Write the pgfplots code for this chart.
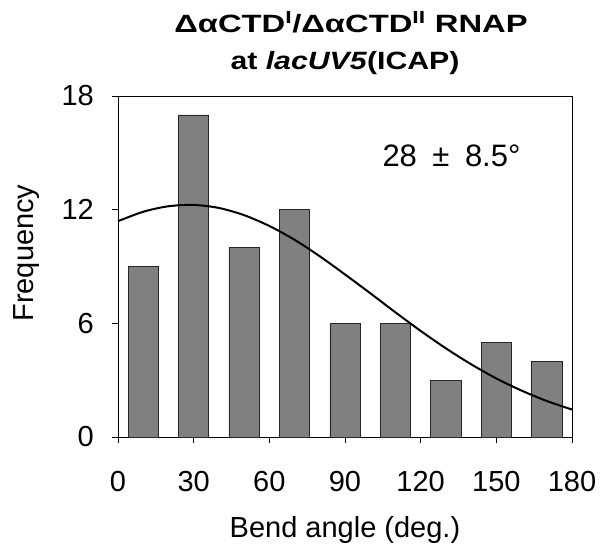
\documentclass[border=0pt]{standalone}
\usepackage{pgfplots}
\pgfplotsset{compat=1.18}
\usepackage{graphicx}
\usepackage{fontspec}
\setmainfont{Liberation Sans}
\definecolor{bargray}{HTML}{808080}

\begin{document}
\begin{tikzpicture}
\useasboundingbox (-118pt,-110pt) rectangle (495pt,437pt);
\begin{axis}[
  at={(0pt,0pt)}, anchor=south west,
  scale only axis, width=454pt, height=341pt,
  xmin=0, xmax=180, ymin=0, ymax=18,
  xtick={0,30,...,180}, ytick={0,6,12,18},
  xtick pos=bottom, ytick pos=left,
  tick align=outside, major tick length=6pt,
  tick style={black, line width=0.8pt},
  axis line style={line width=0.8pt},
  /pgf/number format/assume math mode=true,
  ticklabel style={font=\fontsize{29}{35}\selectfont, inner sep=0pt},
  xticklabel style={anchor=base, yshift=-48pt},
  yticklabel style={anchor=east, xshift=-18pt},
  clip=false,
]
% histogram
\addplot[ybar, bar width=12, fill=bargray, draw=black!85, line width=0.7pt]
  coordinates {(10,9) (30,17) (50,10) (70,12) (90,6) (110,6) (130,3) (150,5) (170,4)};
% fitted curve
\addplot[black, line width=2pt, smooth] coordinates {
  (0,11.39) (10,11.89) (20,12.18) (30,12.25) (40,12.09) (50,11.71)
  (60,11.14) (70,10.41) (80,9.54) (90,8.58) (100,7.59) (110,6.58)
  (120,5.60) (130,4.68) (140,3.84) (150,3.09) (160,2.45) (170,1.90) (180,1.45)};
\end{axis}
\node[anchor=base, font=\bfseries\fontsize{25}{30}\selectfont] at (233pt,404pt)
  {\scalebox{1.31}[1]{ΔαCTD\textsuperscript{I}/ΔαCTD\textsuperscript{II} RNAP}};
\node[anchor=base, font=\bfseries\fontsize{25}{30}\selectfont] at (227pt,367pt)
  {\scalebox{1.21}[1]{at \textit{lacUV5}(ICAP)}};
\node[rotate=90, anchor=base, font=\fontsize{29}{35}\selectfont] at (-84.5pt,184pt) {Frequency};
\node[anchor=base, font=\fontsize{29}{35}\selectfont] at (227pt,-100pt) {Bend angle (deg.)};
\node[anchor=base, font=\fontsize{31}{37}\selectfont] at (333.5pt,270pt)
  {28\hspace{0.5em}±\hspace{0.5em}8.5°};
\end{tikzpicture}
\end{document}
